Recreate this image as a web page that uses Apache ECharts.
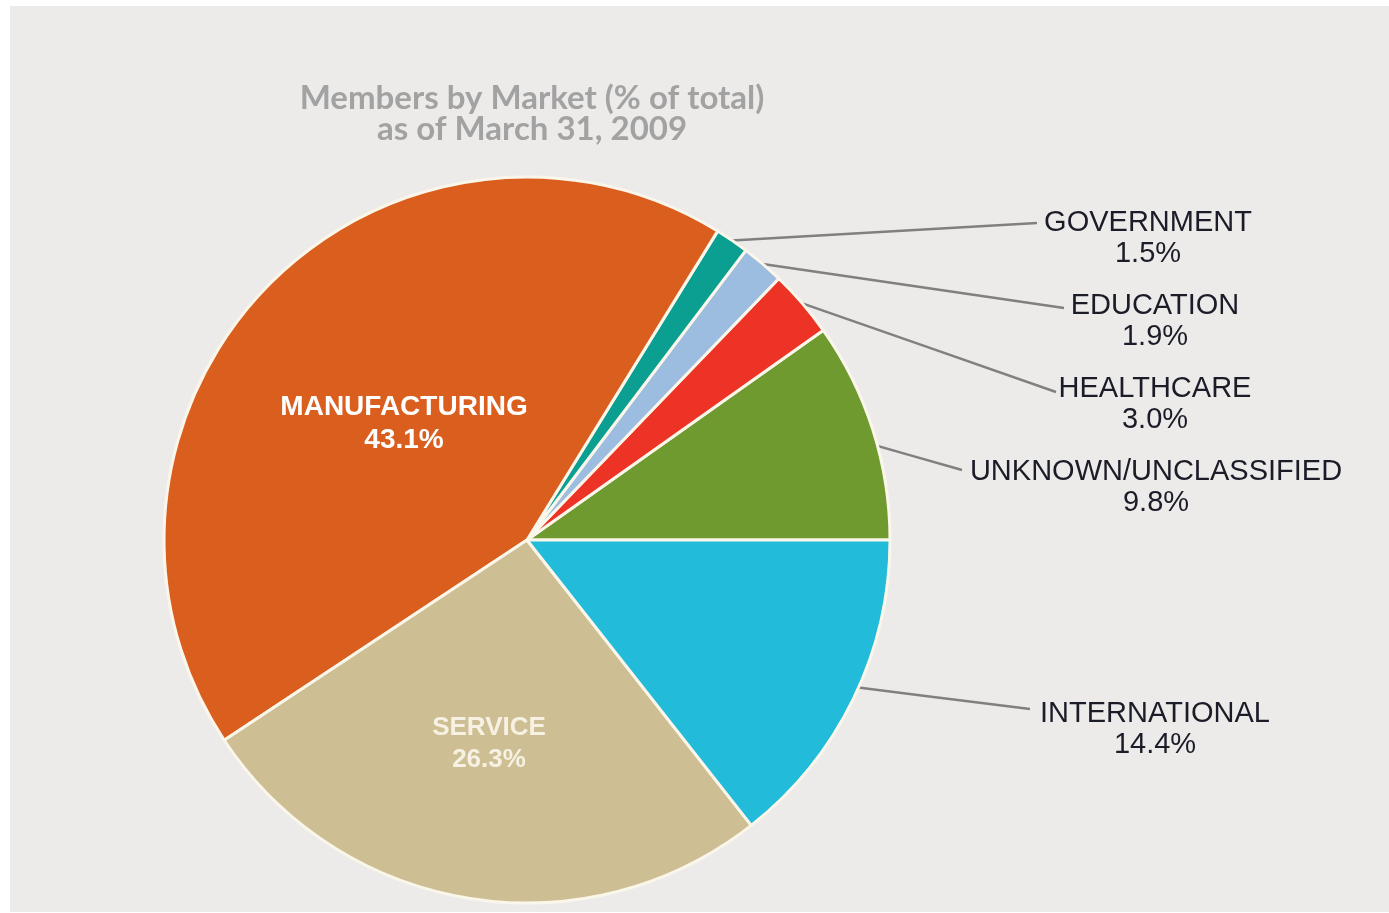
<!DOCTYPE html>
<html>
<head>
<meta charset="utf-8">
<script src="https://cdn.jsdelivr.net/npm/echarts@6/dist/echarts.min.js"></script>
<style>
  html, body { margin: 0; padding: 0; background: #ffffff; }
  .backdrop { position: absolute; left: 10px; top: 6px; width: 1379px; height: 906px; background: #edebea; }
  #main { position: absolute; left: 0; top: 0; width: 1389px; height: 913px; }
</style>
</head>
<body>
<div class="backdrop"></div>
<div id="main"></div>
<script>
// slices, counter-clockwise from 3 o'clock
const markets = ["UNKNOWN/UNCLASSIFIED", "HEALTHCARE", "EDUCATION", "GOVERNMENT", "MANUFACTURING", "SERVICE", "INTERNATIONAL"];
const shares = [9.8, 3.0, 1.9, 1.5, 43.1, 26.3, 14.4];
const colors = ["#6e9a2f", "#ec3326", "#9cbce0", "#0b9f92", "#da5f1f", "#cdbf93", "#22bcda"];

const pieCenter = [527, 540];
const pieRadius = 363;

// where each label sits; "from" = where the leader line starts (share of radius)
const labelSpots = {
  "GOVERNMENT": { x: 1148, y: 238, from: 1.0, to: [1037, 223] },
  "EDUCATION": { x: 1155, y: 321, from: 1.0, to: [1064, 308] },
  "HEALTHCARE": { x: 1155, y: 404, from: 1.0, to: [1056, 392] },
  "UNKNOWN/UNCLASSIFIED": { x: 1156, y: 487, from: 0.93, to: [962, 470] },
  "INTERNATIONAL": { x: 1155, y: 729, from: 0.9, to: [1030, 709] },
  "MANUFACTURING": { x: 404, y: 424 },
  "SERVICE": { x: 489, y: 744 }
};

const insideLabels = {
  "MANUFACTURING": { color: "#ffffff", fontSize: 28, lineHeight: 33 },
  "SERVICE": { color: "#f6f1e2", fontSize: 26, lineHeight: 32 }
};

const pieData = markets.map((name, i) => {
  const item = { name: name, value: shares[i], itemStyle: { color: colors[i] } };
  if (insideLabels[name]) {
    item.label = Object.assign({ position: "inside", fontWeight: "bold" }, insideLabels[name]);
    item.labelLine = { show: false };
  }
  return item;
});

var myChart = echarts.init(document.getElementById("main"));
myChart.setOption({
  backgroundColor: "transparent",
  animation: false,
  title: {
    text: "Members by Market (% of total)\nas of March 31, 2009",
    left: 527,
    top: 78,
    textAlign: "center",
    textStyle: {
      color: "#a2a2a2",
      fontFamily: "Lato",
      fontWeight: "bold",
      fontSize: 33,
      lineHeight: 31
    }
  },
  series: [
    {
      name: "Members by Market",
      type: "pie",
      center: pieCenter,
      radius: pieRadius,
      startAngle: 0,
      clockwise: false,
      avoidLabelOverlap: false,
      itemStyle: {
        borderColor: "#fbf6ea",
        borderWidth: 3
      },
      label: {
        show: true,
        position: "outside",
        formatter: (p) => p.name + "\n" + p.value.toFixed(1) + "%",
        fontFamily: "Liberation Sans",
        fontSize: 29,
        lineHeight: 31,
        color: "#1c1c28"
      },
      labelLine: {
        show: true,
        lineStyle: { color: "#808080", width: 2.5 }
      },
      labelLayout: function (params) {
        const name = markets[params.dataIndex];
        const spot = labelSpots[name];
        const out = { x: spot.x, y: spot.y, align: "center", verticalAlign: "middle" };
        if (spot.to && params.labelLinePoints) {
          const p0 = params.labelLinePoints[0];
          const dx = p0[0] - pieCenter[0];
          const dy = p0[1] - pieCenter[1];
          const len = Math.hypot(dx, dy);
          const sx = pieCenter[0] + (dx / len) * pieRadius * spot.from;
          const sy = pieCenter[1] + (dy / len) * pieRadius * spot.from;
          out.labelLinePoints = [
            [sx, sy],
            [(sx + spot.to[0]) / 2, (sy + spot.to[1]) / 2],
            spot.to
          ];
        }
        return out;
      },
      data: pieData
    }
  ]
});
</script>
</body>
</html>
